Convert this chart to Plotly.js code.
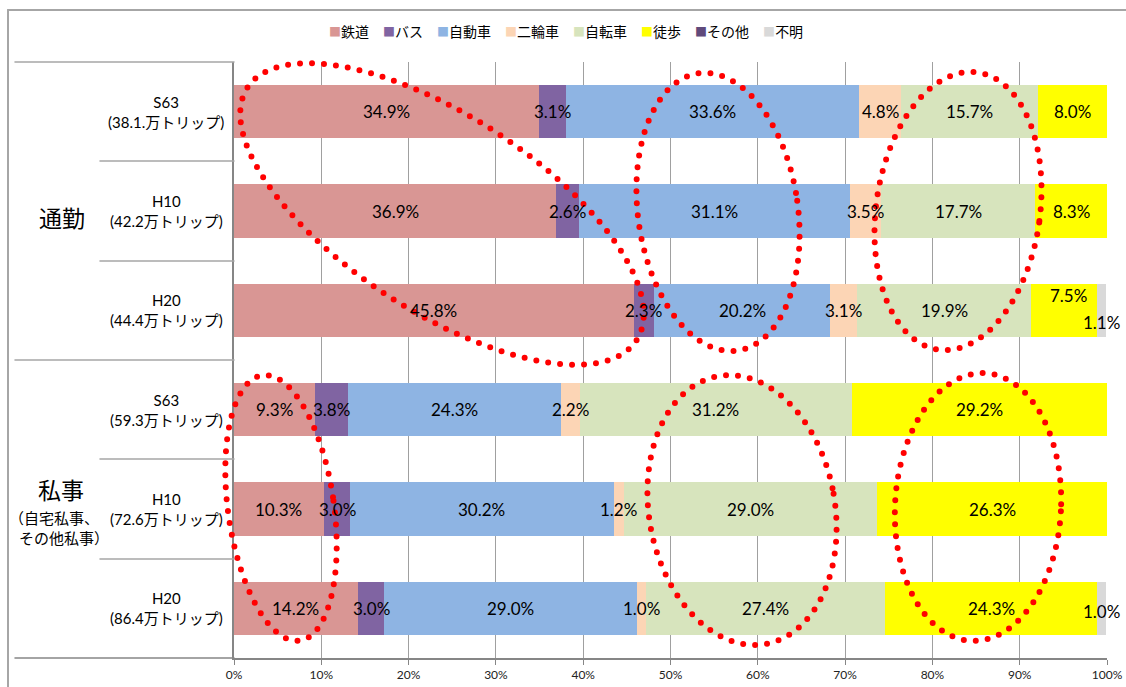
<!DOCTYPE html>
<html><head><meta charset="utf-8">
<script src="https://cdn.plot.ly/plotly-3.0.1.min.js"></script>
<style>
html,body{margin:0;padding:0;background:#fff;}
#chart{width:1126px;height:687px;}
.shapelayer path{stroke-linecap:round;}
</style>
</head><body><div id="chart"></div>
<script>
// ---- data ----
const groups = ['通勤', '私事'];
const years = ['S63', 'H10', 'H20', 'S63', 'H10', 'H20'];
const trips = ['(38.1.万トリップ)', '(42.2万トリップ)', '(44.4万トリップ)', '(59.3万トリップ)', '(72.6万トリップ)', '(86.4万トリップ)'];
const modes = ['鉄道', 'バス', '自動車', '二輪車', '自転車', '徒歩', 'その他', '不明'];
const rail    = [34.9, 36.9, 45.8, 9.3, 10.3, 14.2];
const bus     = [3.1, 2.6, 2.3, 3.8, 3.0, 3.0];
const car     = [33.6, 31.1, 20.2, 24.3, 30.2, 29.0];
const moto    = [4.8, 3.5, 3.1, 2.2, 1.2, 1.0];
const bike    = [15.7, 17.7, 19.9, 31.2, 29.0, 27.4];
const walk    = [8.0, 8.3, 7.5, 29.2, 26.3, 24.3];
const other   = [0, 0, 0, 0, 0, 0];
const unknown = [0, 0, 1.1, 0, 0, 1.0];
const xTicks = [0, 10, 20, 30, 40, 50, 60, 70, 80, 90, 100];

// ---- styles ----
const colors = ['#d99694', '#8064a2', '#8eb4e3', '#fcd5b5', '#d7e4bd', '#ffff00', '#604a7b', '#d9d9d9'];
const series = [rail, bus, car, moto, bike, walk, other, unknown];
const FONT = 'Lato, Noto Sans CJK JP, sans-serif';
const L = 234, T = 62, W = 873, H = 596;
const px = p => (p - L) / W;
const py = p => (T + H - p) / H;
const rows = years.map((_, i) => i);

// label offsets (px) for crowded labels
const labelShift = {'5-2': {x: 5, y: 15}, '7-2': {x: 0, y: -12}, '7-5': {x: 0, y: -3}};

const traces = series.map((vals, s) => ({
  type: 'bar', orientation: 'h', name: modes[s],
  x: vals, y: rows,
  marker: {color: colors[s], line: {width: 0}},
  hoverinfo: 'x+name', showlegend: false
}));

const annotations = [];
function note(o) {
  annotations.push(Object.assign({showarrow: false, xanchor: 'center', yanchor: 'middle'}, o));
}
// data labels
rows.forEach(i => {
  let cum = 0;
  series.forEach((vals, s) => {
    const v = vals[i];
    if (v > 0) {
      const sh = labelShift[s + '-' + i] || {x: 0, y: 0};
      note({
        x: cum + v / 2, y: i, xref: 'x', yref: 'y',
        text: v.toFixed(1) + '%', xshift: sh.x, yshift: sh.y,
        font: {family: FONT, size: 17, color: '#000'}
      });
    }
    cum += v;
  });
});
// category labels
rows.forEach(i => {
  note({
    x: px(166), y: i, xref: 'paper', yref: 'y',
    text: years[i] + '<br>' + trips[i], align: 'center',
    font: {family: FONT, size: 15, color: '#000'}
  });
});
// group labels
note({x: px(62), y: py(218), xref: 'paper', yref: 'paper', text: groups[0],
  font: {family: FONT, size: 23, color: '#000'}});
note({x: px(61), y: py(490), xref: 'paper', yref: 'paper', text: groups[1],
  font: {family: FONT, size: 23, color: '#000'}});
note({x: px(54), y: py(518), xref: 'paper', yref: 'paper', text: '（自宅私事、',
  font: {family: FONT, size: 15, color: '#000'}});
note({x: px(64), y: py(538), xref: 'paper', yref: 'paper', text: 'その他私事）',
  font: {family: FONT, size: 15, color: '#000'}});
// legend (built from series names and colours)
note({
  x: px(566), y: py(31), xref: 'paper', yref: 'paper',
  text: modes.map((m, s) => '<span style="color:' + colors[s] + ';font-size:12px">■</span>' + m).join('　'),
  font: {family: FONT, size: 14, color: '#000'}
});

// ---- shapes ----
const grey = '#a6a6a6';
const shapes = [];
function seg(x0, y0, x1, y1, color, w) {
  shapes.push({type: 'line', xref: 'paper', yref: 'paper', x0: px(x0), y0: py(y0), x1: px(x1), y1: py(y1),
    line: {color: color, width: w}});
}
// chart border
seg(8, 10, 1126, 10, grey, 2);
seg(8, 10, 8, 687, grey, 2);
// left label grid
seg(15, 62, 234, 62, grey, 1.5);
seg(15, 360, 234, 360, grey, 1.5);
seg(15, 658, 234, 658, '#868686', 1.5);
[161, 261, 459, 559].forEach(y => seg(100, y, 234, y, grey, 1.5));

// red dotted ellipses (pixel geometry)
const ellipses = [
  {cx: 442, cy: 214, rx: 232, ry: 98, rot: 33},
  {cx: 718, cy: 212, rx: 80, ry: 140, rot: -8},
  {cx: 958, cy: 211, rx: 82, ry: 140, rot: 8},
  {cx: 281, cy: 508, rx: 53, ry: 134, rot: -8},
  {cx: 742, cy: 510, rx: 93, ry: 136, rot: -10},
  {cx: 978, cy: 507, rx: 83, ry: 134, rot: 3}
];
ellipses.forEach(e => {
  const th = e.rot * Math.PI / 180;
  const pts = [];
  for (let k = 0; k <= 240; k++) {
    const t = k / 240 * 2 * Math.PI;
    const x = e.cx + e.rx * Math.cos(t) * Math.cos(th) - e.ry * Math.sin(t) * Math.sin(th);
    const y = e.cy + e.rx * Math.cos(t) * Math.sin(th) + e.ry * Math.sin(t) * Math.cos(th);
    pts.push(px(x).toFixed(5) + ',' + py(y).toFixed(5));
  }
  shapes.push({type: 'path', xref: 'paper', yref: 'paper', layer: 'above',
    path: 'M' + pts.join('L') + 'Z',
    line: {color: '#ff0000', width: 6, dash: '0px,12px'}});
});

const layout = {
  width: 1126, height: 687,
  margin: {l: L, r: 1126 - L - W, t: T, b: 687 - T - H},
  paper_bgcolor: '#fff', plot_bgcolor: '#fff',
  barmode: 'stack', bargap: 0.46,
  showlegend: false,
  font: {family: FONT, color: '#000'},
  xaxis: {
    range: [0, 100], tickvals: xTicks, ticktext: xTicks.map(v => v + '%'),
    showgrid: true, gridcolor: '#a0a0a0', gridwidth: 1,
    showline: true, linecolor: '#868686', linewidth: 2,
    ticks: 'outside', ticklen: 5, tickcolor: '#868686', tickwidth: 1,
    zeroline: false, fixedrange: true,
    tickfont: {family: FONT, size: 12, color: '#222'}
  },
  yaxis: {
    range: [5.5, -0.5], showticklabels: false, showgrid: false,
    showline: true, linecolor: '#868686', linewidth: 2,
    zeroline: false, ticks: '', fixedrange: true
  },
  annotations: annotations,
  shapes: shapes
};

Plotly.newPlot('chart', traces, layout, {displayModeBar: false, staticPlot: true});
</script></body></html>
